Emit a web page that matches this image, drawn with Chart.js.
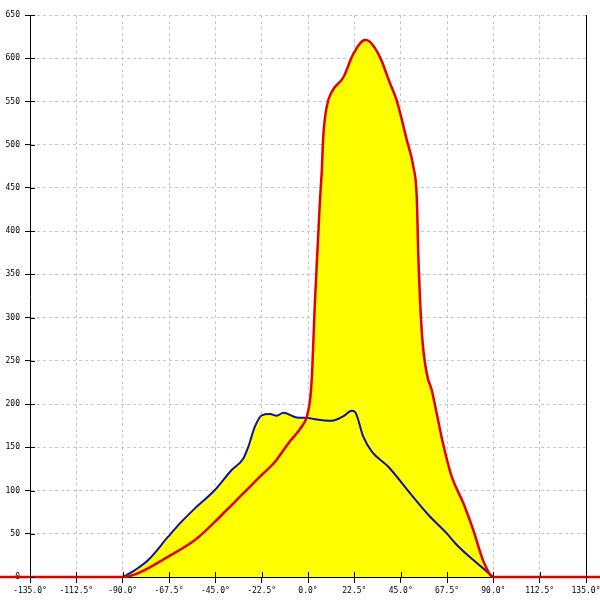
<!DOCTYPE html>
<html>
<head>
<meta charset="utf-8">
<script src="https://cdn.jsdelivr.net/npm/chart.js@4"></script>
<style>
  html, body { margin: 0; padding: 0; background: #fff; }
  #wrap { width: 600px; height: 600px; }
</style>
</head>
<body>
<div id="wrap"><canvas id="chart" width="600" height="600"></canvas></div>
<script>
// angles in degrees
const blueDeg = [-90, -84, -77.6, -67.9, -61.4, -54.9, -45.2, -37.1, -31.4, -29, -25.8, -22.5, -18.5, -15.2, -12, -5.5, 0, 3.4, 11.5, 17.2, 21.2, 22.8, 26.9, 31, 39, 49.6, 58.5, 67.4, 72.3, 80.3, 90];
const blueVal = [0, 8, 19.6, 46.6, 64, 79.4, 100.6, 123.7, 137, 150.6, 173.8, 187, 188.4, 186.5, 190, 184.6, 184, 182.5, 180.7, 186, 192.3, 191, 162, 144.9, 127.5, 96.8, 71.7, 50.5, 37, 19.6, 0];

const redDeg = [-150, -90, -84, -76.8, -67.9, -54.9, -45.2, -37.1, -29, -22.5, -16, -9.6, -3.1, -0.6, 1, 1.8, 3.4, 5, 5.8, 6.7, 7.4, 9.1, 11.5, 17.2, 22, 27.7, 30.1, 35, 39.8, 43.1, 48, 51.2, 52.8, 53.6, 55.3, 57.7, 60.1, 62, 65.7, 69.8, 75.5, 80.3, 85.2, 90, 150];
const redVal = [0, 0, 3, 11.2, 23.5, 42.8, 64, 83.2, 102.5, 118, 133.3, 154.5, 173.8, 185.3, 204.6, 228, 320, 397, 435, 470, 509, 544, 561, 578, 605, 621, 619, 601, 571, 551, 505, 474, 440, 370, 282, 235, 216, 195, 153, 116, 85, 54, 18, 0, 0];

const xMin = -135, xMax = 135, xStep = 22.5;
const yMin = 0, yMax = 650, yStep = 50;

function toPoints(xs, ys) {
    return xs.map((x, i) => ({ x: x, y: ys[i] }));
}

const tickFont = { family: 'DejaVu Sans Mono', size: 8 };

// tick marks also reach a few pixels into the plot area
const innerTicks = {
    id: 'innerTicks',
    afterDatasetsDraw(chart) {
        const ctx = chart.ctx;
        const xs = chart.scales.x;
        const ys = chart.scales.y;
        ctx.save();
        ctx.strokeStyle = '#000';
        ctx.lineWidth = 1;
        ctx.beginPath();
        xs.ticks.forEach((t, i) => {
            const px = Math.round(xs.getPixelForTick(i)) + 0.5;
            ctx.moveTo(px, xs.top - 5);
            ctx.lineTo(px, xs.top);
        });
        ys.ticks.forEach((t, i) => {
            const py = Math.round(ys.getPixelForTick(i)) + 0.5;
            ctx.moveTo(ys.right, py);
            ctx.lineTo(ys.right + 5, py);
        });
        ctx.stroke();
        ctx.restore();
    }
};

const ctx = document.getElementById('chart').getContext('2d');
new Chart(ctx, {
    type: 'line',
    data: {
        datasets: [{
            label: 'red',
            data: toPoints(redDeg, redVal),
            borderColor: '#e00000',
            borderWidth: 2.5,
            backgroundColor: '#ffff00',
            fill: 'origin',
            pointRadius: 0,
            cubicInterpolationMode: 'monotone',
            clip: false
        }, {
            label: 'blue',
            data: toPoints(blueDeg, blueVal),
            borderColor: '#1010a0',
            borderWidth: 2,
            backgroundColor: '#ffff00',
            fill: 'origin',
            pointRadius: 0,
            cubicInterpolationMode: 'monotone'
        }]
    },
    options: {
        responsive: false,
        animation: false,
        events: [],
        layout: { padding: { top: 15, right: 14, left: 0, bottom: 0 } },
        plugins: {
            legend: { display: false },
            tooltip: { enabled: false },
            filler: { drawTime: 'beforeDatasetsDraw' }
        },
        scales: {
            x: {
                type: 'linear',
                min: xMin,
                max: xMax,
                afterFit: s => {
                    s.height = 23;
                    s.paddingLeft = 0;
                    s.paddingRight = 0;
                },
                afterBuildTicks: s => {
                    const t = [];
                    for (let v = xMin; v <= xMax + 0.001; v += xStep) t.push({ value: v });
                    s.ticks = t;
                },
                ticks: {
                    color: '#000',
                    font: tickFont,
                    padding: 3,
                    maxRotation: 0,
                    autoSkip: false,
                    callback: v => v.toFixed(1) + '°'
                },
                grid: { color: '#c8c8c8', tickColor: '#000', tickLength: 6 },
                border: { color: '#000', dash: [3, 3] }
            },
            y: {
                min: yMin,
                max: yMax,
                afterFit: s => {
                    s.width = 30;
                    s.paddingTop = 0;
                    s.paddingBottom = 0;
                },
                ticks: {
                    stepSize: yStep,
                    color: '#000',
                    font: tickFont,
                    padding: 5,
                    callback: v => String(v)
                },
                grid: { color: '#c8c8c8', tickColor: '#000', tickLength: 5 },
                border: { color: '#000', dash: [3, 3] }
            },
            y2: {
                position: 'right',
                min: yMin,
                max: yMax,
                afterFit: s => { s.width = 0; },
                ticks: { display: false },
                grid: { drawOnChartArea: false, drawTicks: false },
                border: { color: '#000' }
            }
        }
    },
    plugins: [innerTicks]
});
</script>
</body>
</html>
